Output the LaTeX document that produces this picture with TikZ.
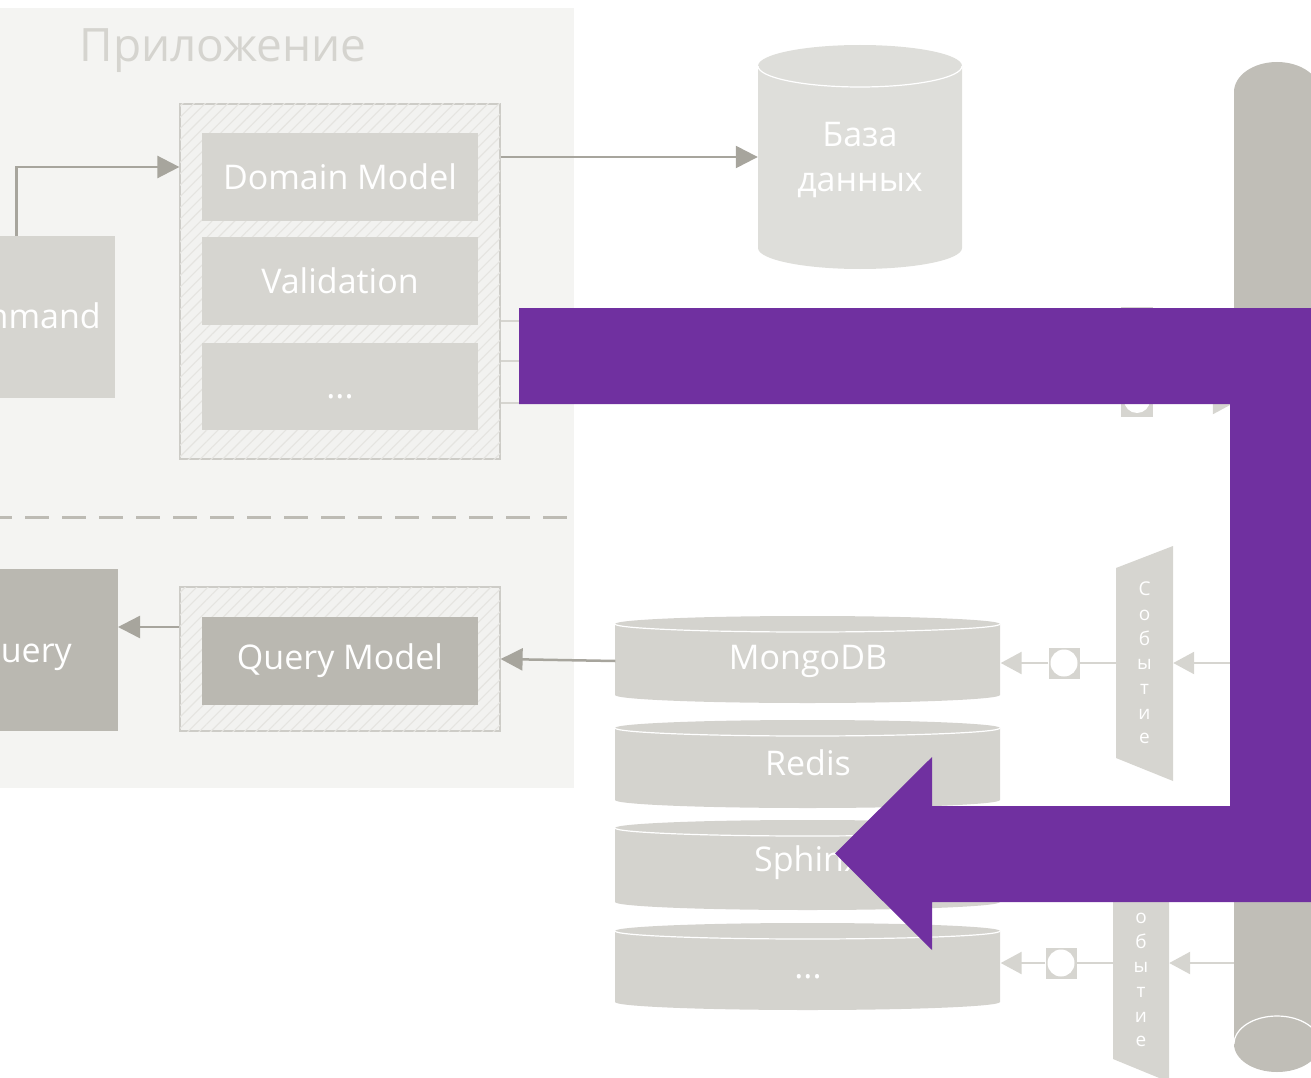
\documentclass[tikz,border=0pt]{standalone}
\usepackage{fontspec}
\setmainfont{Open Sans}
\usetikzlibrary{arrows.meta,patterns.meta}

\definecolor{appbg}{HTML}{F4F4F2}
\definecolor{titlegray}{HTML}{D5D4CF}
\definecolor{sepgray}{HTML}{BDBBB4}
\definecolor{boxgray}{HTML}{D6D5D0}
\definecolor{darkbox}{HTML}{BAB8B1}
\definecolor{hatchbg}{HTML}{F2F2F0}
\definecolor{hatchline}{HTML}{E5E4E0}
\definecolor{hatchedge}{HTML}{CDCCC7}
\definecolor{arrowdark}{HTML}{A7A59D}
\definecolor{dbgray}{HTML}{DEDEDA}
\definecolor{stackgray}{HTML}{D4D3CE}
\definecolor{busgray}{HTML}{C0BEB7}
\definecolor{evgray}{HTML}{D6D5D0}
\definecolor{flowpurple}{HTML}{7030A0}

% vertical cylinder: left x, right x, top-centre y, bottom-centre y, half height of the ends, colour
\newcommand\drawdrum[6]{%
  \pgfmathsetmacro\drumrx{(#2-#1)/2}%
  \fill[#6] (#1,#3) -- (#1,#4) arc[start angle=180,end angle=360,x radius=\drumrx pt,y radius=#5pt]
    -- (#2,#3) arc[start angle=0,end angle=180,x radius=\drumrx pt,y radius=#5pt] -- cycle;
  \draw[white,line width=1.2pt] (#1,#3) arc[start angle=180,end angle=360,x radius=\drumrx pt,y radius=#5pt];
}

\begin{document}
\begin{tikzpicture}[x=1pt,y=-1pt,
  boxtext/.style={text=white,inner sep=0pt,font=\fontsize{34}{40}\selectfont},
  plainbox/.style={fill=boxgray,inner sep=0pt},
  darkplain/.style={fill=darkbox,inner sep=0pt},
  hatchbox/.style={draw=hatchedge,line width=1.2pt,fill=hatchbg,inner sep=0pt,
    postaction={pattern={Lines[angle=45,distance=8pt,line width=1.1pt]},pattern color=hatchline}},
  titletext/.style={text=titlegray,inner sep=0pt,font=\fontsize{46}{54}\selectfont},
  sepline/.style={draw=sepgray,line width=3pt,dash pattern=on 24pt off 13pt},
  darkarrow/.style={draw=arrowdark,line width=2.5pt,-{Triangle[length=22pt,width=22pt]}},
  evline/.style={draw=evgray,line width=2.5pt},
  evarrow/.style={evline,-{Triangle[length=21pt,width=22pt]}},
  evbox/.style={fill=evgray,inner sep=0pt},
  evtext/.style={text=white,inner sep=0pt,align=center,font=\fontsize{19}{24.7}\selectfont},
  spacer/.style={inner sep=0pt,minimum width=#1}
]
\useasboundingbox (0,0) rectangle (1311,1078);
\clip (0,0) rectangle (1311,1078);

% application area
\fill[appbg] (-10,8) rectangle (574,788);
\node[titletext,anchor=base] (title) at (223,62) {Приложение};
\draw[sepline] (-12,517) -- (574,517);

% command side
\node[plainbox,minimum width=240pt,minimum height=162pt,anchor=north east] (cmd) at (115,236) {};
\node[boxtext,anchor=base east] (cmdtext) at (101,328) {Command};

\node[hatchbox,minimum width=320pt,minimum height=355pt] (dom) at (340,281.5) {};
\node[plainbox,boxtext,minimum width=276pt,minimum height=88pt] (dmodel) at (340,177) {Domain Model};
\node[plainbox,boxtext,minimum width=276pt,minimum height=88pt] (valid) at (340,281) {Validation};
\node[plainbox,boxtext,minimum width=276pt,minimum height=87pt,text height=0.5ex,text depth=0pt] (dmore) at (340,386.5) {};
\node[boxtext,anchor=base] (dmoretext) at (340,398) {...};

\draw[darkarrow] ([xshift=21.5pt]cmd.north) |- ([yshift=10pt]dmodel.west -| dom.west);

% database
\drawdrum{758}{962}{66}{248}{21}{dbgray}
\node[boxtext,align=center,font=\fontsize{34}{45}\selectfont,minimum width=204pt] (db) at (860,157) {};
\node[boxtext,align=center,font=\fontsize{34}{45}\selectfont,anchor=base] (dbtext) at (860,192) {База\\данных};
\draw[darkarrow] (db.west -| dom.east) -- (db.west);

% query side
\node[darkplain,minimum width=240pt,minimum height=162pt,anchor=north east] (query) at (118,569) {};
\node[boxtext,anchor=base east] (querytext) at (72,662) {Query};
\node[hatchbox,minimum width=320pt,minimum height=144pt] (qouter) at (340,659) {};
\node[darkplain,boxtext,minimum width=276pt,minimum height=88pt] (qmodel) at (340,660.5) {Query Model};
\draw[darkarrow] ([yshift=32pt]qouter.west) -- ([yshift=32pt]qouter.west -| query.east);

% read stores
\drawdrum{615}{1000}{624}{695}{8}{stackgray}
\drawdrum{615}{1000}{728}{800}{8}{stackgray}
\drawdrum{615}{1000}{828}{902}{8}{stackgray}
\drawdrum{615}{1000}{931}{1002}{8}{stackgray}
\node[boxtext,spacer=385pt] (mongo) at (808,661) {MongoDB};
\node[boxtext,spacer=385pt] (redis) at (808,763) {Redis};
\node[boxtext,spacer=385pt] (sphinx) at (808,863) {Sphinx};
\node[boxtext,spacer=385pt,text height=0.5ex,text depth=0pt] (sdots) at (808,966) {};
\node[boxtext,anchor=base] (sdotstext) at (808,978) {...};
\draw[darkarrow] (mongo.west) -- (qouter.east);

% event bus
\fill[busgray] (1234,92) -- (1234,1044) arc[start angle=180,end angle=360,x radius=43pt,y radius=28pt]
  -- (1320,92) arc[start angle=0,end angle=180,x radius=43pt,y radius=30pt] -- cycle;
\draw[white,line width=1.2pt] (1234,1044) arc[start angle=180,end angle=0,x radius=43pt,y radius=28pt];
\node[inner sep=0pt,minimum width=86pt,minimum height=952pt] (bus) at (1277,568) {};

% events published by the domain
\node[evbox,minimum width=32pt,minimum height=110pt] (sq0) at (1137,362) {};
\fill[white] (1137,400) circle[radius=13pt];
\draw[evline] ([yshift=-39.5pt]dom.east) -- ([yshift=-39.5pt]dom.east -| sq0.west);
\draw[evline] ([yshift=-79.5pt]dom.east) -- ([yshift=-79.5pt]dom.east -| sq0.west);
\draw[evline] ([yshift=-121.5pt]dom.east) -- ([yshift=-121.5pt]dom.east -| sq0.west);
\draw[evarrow] ([yshift=-41pt]sq0.east) -- ([yshift=-41pt]sq0.east -| bus.west);

% events delivered to the read stores
\fill[evgray] (1116,568) -- (1173,546) -- (1173,781) -- (1116,758) -- cycle;
\node[evtext,minimum width=57pt] (ev1) at (1144.5,663) {С\\о\\б\\ы\\т\\и\\е};
\node[evbox,minimum width=31pt,minimum height=31pt] (sq1) at (1064,663) {};
\fill[white] (sq1) circle[radius=13.5pt];
\draw[evarrow] (ev1.east -| bus.west) -- (ev1.east);
\draw[evline] (ev1.west) -- (sq1.east);
\draw[evarrow] (sq1.west) -- (sq1.west -| mongo.east);

\fill[evgray] (1113,869) -- (1169,847) -- (1169,1082) -- (1113,1059) -- cycle;
\node[evtext,minimum width=56pt] (ev2) at (1141,966) {С\\о\\б\\ы\\т\\и\\е};
\node[evbox,minimum width=31pt,minimum height=31pt] (sq2) at (1061,963) {};
\fill[white] (sq2) circle[radius=13.5pt];
\draw[evarrow] (sq2.east -| bus.west) -- (sq2.east -| ev2.east);
\draw[evline] (sq2.east -| ev2.west) -- (sq2.east);
\draw[evarrow] (sq2.west) -- (sq2.west -| sdots.east);

% highlighted flow
\fill[flowpurple] (1330,308) -- (519,308) -- (519,404) -- (1230,404) -- (1230,806)
  -- (932,806) -- (932,757) -- (835,853.5) -- (932,950) -- (932,902) -- (1330,902) -- cycle;
\end{tikzpicture}
\end{document}
